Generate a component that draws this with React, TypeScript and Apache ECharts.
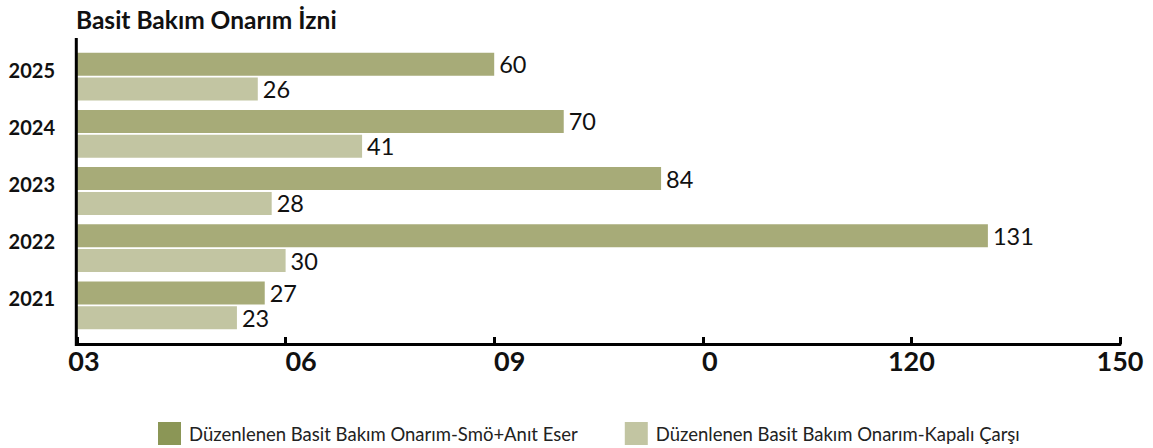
import React, { useEffect, useRef } from "react";
import * as echarts from "echarts";

const titleText = "Basit Bakım Onarım İzni";
const categories = ["2025", "2024", "2023", "2022", "2021"];
const seriesNames = [
  "Düzenlenen Basit Bakım Onarım-Smö+Anıt Eser",
  "Düzenlenen Basit Bakım Onarım-Kapalı Çarşı",
];
const smoAnitEser = [60, 70, 84, 131, 27];
const kapaliCarsi = [26, 41, 28, 30, 23];
const tickLabels = ["03", "06", "09", "0", "120", "150"];
const tickShift = ["a", "b", "b", "a", "c", "c"];

export default function App() {
  const ref = useRef<HTMLDivElement>(null);
  useEffect(() => {
    if (!ref.current) return;
    const chart = echarts.init(ref.current, null, { renderer: "svg" });
    const font = "Lato";
    chart.setOption({
      animation: false,
      title: {
        text: titleText,
        left: 71,
        top: 2,
        textStyle: { fontFamily: font, fontWeight: "bold", fontSize: 24.5, color: "#111" },
      },
      legend: {
        left: 153,
        top: 417,
        itemWidth: 23,
        itemHeight: 23,
        itemGap: 47,
        icon: "rect",
        textStyle: { fontFamily: font, fontSize: 18.5, color: "#222", padding: [0, 0, 0, 3] },
        data: [
          { name: seriesNames[0], itemStyle: { color: "#8b9656" } },
          { name: seriesNames[1], itemStyle: { color: "#c2c5a2" } },
        ],
      },
      grid: { left: 77, right: 33, top: 48, bottom: 114, containLabel: false },
      xAxis: {
        type: "value",
        min: 0,
        max: 150,
        interval: 30,
        offset: 10,
        axisLine: { show: true, lineStyle: { color: "#000", width: 3 } },
        axisTick: { show: true, inside: true, length: 7, lineStyle: { color: "#000", width: 3 } },
        splitLine: { show: false },
        axisLabel: {
          margin: 3,
          formatter: (v: number) => {
            const i = Math.round(v / 30);
            return `{${tickShift[i]}|${tickLabels[i]}}`;
          },
          rich: {
            a: { fontFamily: font, fontWeight: "bold", fontSize: 27, color: "#111", padding: [0, 0, 0, 14] },
            b: { fontFamily: font, fontWeight: "bold", fontSize: 27, color: "#111", padding: [0, 0, 0, 31] },
            c: { fontFamily: font, fontWeight: "bold", fontSize: 27, color: "#111" },
          },
        },
      },
      yAxis: {
        type: "category",
        inverse: true,
        data: categories,
        axisLine: { show: false },
        axisTick: { show: false },
        axisLabel: {
          margin: 22,
          formatter: (v: string) => `{y|${v}}`,
          rich: {
            y: {
              fontFamily: font,
              fontWeight: "bold",
              fontSize: 20,
              color: "#111",
              padding: [0, 0, 14, 0],
            },
          },
        },
      },
      graphic: [
        {
          type: "line",
          shape: { x1: 76.3, y1: 38, x2: 76.3, y2: 346 },
          style: { stroke: "#000", lineWidth: 3 },
          z: 10,
        },
      ],
      series: [
        {
          name: seriesNames[0],
          type: "bar",
          data: smoAnitEser,
          barWidth: 23,
          barGap: "8%",
          itemStyle: { color: "#a7ab78" },
          label: {
            show: true,
            position: "right",
            distance: 5,
            fontFamily: font,
            fontSize: 23.5,
            color: "#111",
          },
        },
        {
          name: seriesNames[1],
          type: "bar",
          data: kapaliCarsi,
          barWidth: 23,
          barGap: "8%",
          itemStyle: { color: "#c2c5a2" },
          label: {
            show: true,
            position: "right",
            distance: 5,
            fontFamily: font,
            fontSize: 23.5,
            color: "#111",
          },
        },
      ],
    });
    return () => chart.dispose();
  }, []);
  return <div ref={ref} style={{ width: 1153, height: 448, position: "absolute", left: 0, top: 0 }} />;
}
